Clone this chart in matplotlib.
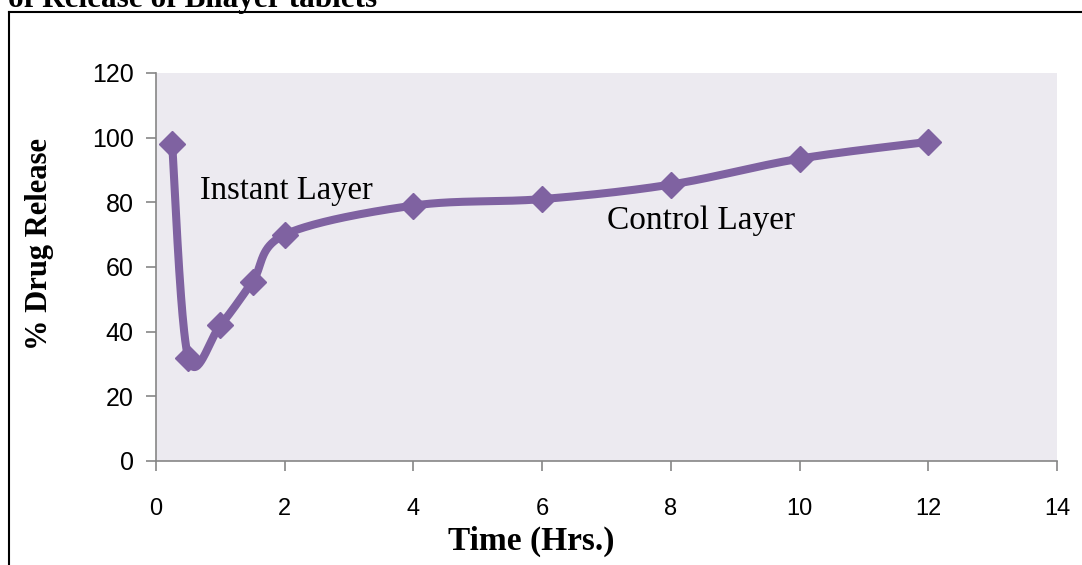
import numpy as np
import matplotlib
matplotlib.use('Agg')
import matplotlib.pyplot as plt
from matplotlib.lines import Line2D

# Drug release profile of bilayer tablets
time_hrs = [0.25, 0.5, 1, 1.5, 2, 4, 6, 8, 10, 12]
release = [98, 32, 42, 55.5, 70, 79, 81, 85.5, 93.5, 98.7]
x_ticks = [0, 2, 4, 6, 8, 10, 12, 14]
y_ticks = [0, 20, 40, 60, 80, 100, 120]

purple = '#7F62A1'
serif = ['Liberation Serif', 'DejaVu Serif']
narrow = ['Liberation Sans Narrow', 'Liberation Sans', 'DejaVu Sans']


def smooth_curve(xs, ys, n=40):
    # Catmull-Rom style bezier smoothing (like spreadsheet "smoothed line")
    pts = np.column_stack([xs, ys]).astype(float)
    out = []
    for i in range(len(pts) - 1):
        p0 = pts[i - 1] if i > 0 else pts[i]
        p1 = pts[i]
        p2 = pts[i + 1]
        p3 = pts[i + 2] if i + 2 < len(pts) else pts[i + 1]
        c1 = p1 + (p2 - p0) / 6.0
        c2 = p2 - (p3 - p1) / 6.0
        t = np.linspace(0, 1, n)[:, None]
        seg = ((1 - t) ** 3) * p1 + 3 * ((1 - t) ** 2) * t * c1 \
            + 3 * (1 - t) * t ** 2 * c2 + t ** 3 * p2
        out.append(seg if i == 0 else seg[1:])
    out = np.vstack(out)
    return out[:, 0], out[:, 1]


fig = plt.figure(figsize=(10.82, 5.65), dpi=100)
ax = fig.add_axes([0.1442, 0.1841, 0.8327, 0.6867])
ax.set_facecolor('#ECEAF0')

sx, sy = smooth_curve(time_hrs, release)
ax.plot(sx, sy, color=purple, lw=5.8, solid_capstyle='round', zorder=3)
ax.plot(time_hrs, release, ls='none', marker='D', ms=13, color=purple, zorder=4)

ax.set_xlim(0, 14)
ax.set_ylim(0, 120)
ax.set_xticks(x_ticks)
ax.set_yticks(y_ticks)

for side in ['top', 'right']:
    ax.spines[side].set_visible(False)
for side in ['left', 'bottom']:
    ax.spines[side].set_color('#868686')
    ax.spines[side].set_linewidth(1.2)
ax.tick_params(axis='both', direction='out', length=7, width=1.2, color='#868686')
ax.tick_params(axis='y', labelsize=18, pad=9)
ax.tick_params(axis='x', labelsize=17, pad=20)
for lbl in ax.get_yticklabels():
    lbl.set_family(['Liberation Sans', 'DejaVu Sans'])
for lbl in ax.get_xticklabels():
    lbl.set_family(narrow)

ax.set_xlabel('Time (Hrs.)', family=serif, fontweight='bold', fontsize=24, va='center')
ax.xaxis.set_label_coords(0.416, -0.206)
ax.set_ylabel('% Drug Release', family=serif, fontweight='bold', fontsize=22, va='center')
ax.yaxis.set_label_coords(-0.129, 0.559)

ax.text(0.68, 81.0, 'Instant Layer', family=serif, fontsize=23.5, va='baseline')
ax.text(7.0, 71.8, 'Control Layer', family=serif, fontsize=24, va='baseline')

# frame around the chart and the clipped heading above it
fig.add_artist(Line2D([9 / 1082, 9 / 1082], [0, 1 - 12 / 565],
                      transform=fig.transFigure, color='black', lw=1.5))
fig.add_artist(Line2D([9 / 1082, 1], [1 - 12 / 565, 1 - 12 / 565],
                      transform=fig.transFigure, color='black', lw=1.5))
fig.text(8 / 1082, 1 - 7 / 565, 'of Release of Bilayer tablets', family=serif,
         fontweight='bold', fontsize=22.5, va='baseline', ha='left')

fig.savefig('out.png', dpi=100)
